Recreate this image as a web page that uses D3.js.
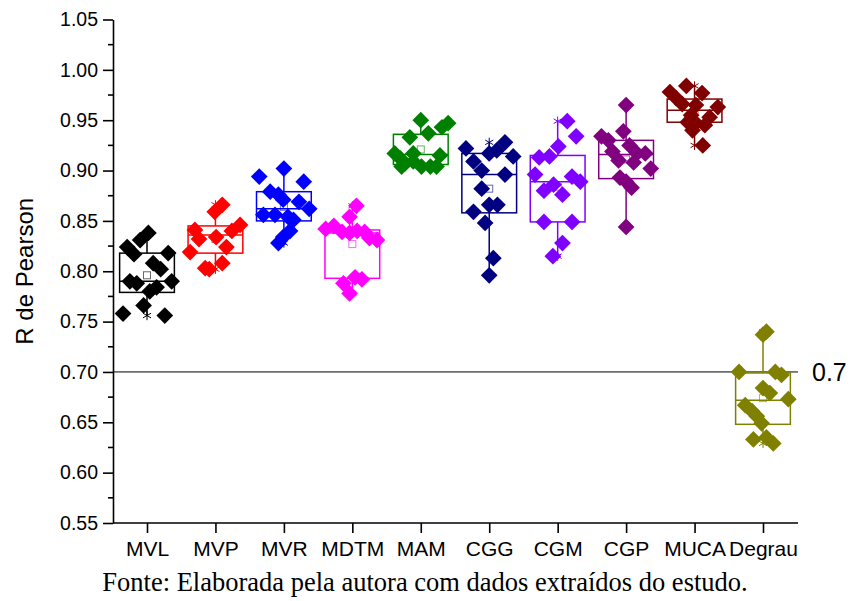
<!DOCTYPE html>
<html>
<head>
<meta charset="utf-8">
<script src="https://cdn.jsdelivr.net/npm/d3@7"></script>
<style>
  body { margin: 0; background: #fff; }
  svg { display: block; }
</style>
</head>
<body>
<div id="wrapper"></div>
<script>
// categories, colours
const categories = ["MVL", "MVP", "MVR", "MDTM", "MAM", "CGG", "CGM", "CGP", "MUCA", "Degrau"]
const colors = ["#000000", "#ff0000", "#0000ff", "#ff00ff", "#008000",
  "#000080", "#8000ff", "#800080", "#800000", "#808000"]

// R values, one array per group
const mvl = [0.838, 0.831, 0.824, 0.817, 0.818, 0.808, 0.802, 0.790, 0.788, 0.790, 0.780, 0.784, 0.766, 0.758, 0.756]
const mvp = [0.866, 0.859, 0.841, 0.832, 0.834, 0.840, 0.846, 0.819, 0.824, 0.803, 0.808, 0.802]
const mvr = [0.894, 0.902, 0.889, 0.879, 0.876, 0.871, 0.869, 0.862, 0.856, 0.856, 0.854, 0.851, 0.840, 0.834, 0.828]
const mdtm = [0.865, 0.854, 0.842, 0.845, 0.839, 0.838, 0.840, 0.839, 0.833, 0.831, 0.788, 0.794, 0.792, 0.778]
const mam = [0.950, 0.943, 0.947, 0.937, 0.933, 0.917, 0.912, 0.917, 0.915, 0.907, 0.909, 0.904, 0.904, 0.904, 0.904]
const cgg = [0.922, 0.928, 0.920, 0.917, 0.914, 0.909, 0.900, 0.896, 0.882, 0.866, 0.866, 0.859, 0.848, 0.813, 0.796]
const cgm = [0.949, 0.934, 0.924, 0.913, 0.914, 0.896, 0.894, 0.889, 0.886, 0.880, 0.876, 0.849, 0.849, 0.828, 0.815]
const cgp = [0.965, 0.939, 0.934, 0.930, 0.925, 0.919, 0.910, 0.917, 0.917, 0.908, 0.902, 0.893, 0.889, 0.883, 0.844]
const muca = [0.984, 0.977, 0.978, 0.972, 0.966, 0.965, 0.963, 0.953, 0.945, 0.955, 0.948, 0.947, 0.940, 0.925]
const degrau = [0.737, 0.740, 0.700, 0.700, 0.697, 0.684, 0.679, 0.673, 0.667, 0.661, 0.656, 0.649, 0.633, 0.635, 0.629]

// horizontal jitter of each point, in category steps
const jitter = [
  [0.02, -0.1, -0.29, -0.19, 0.31, 0.09, 0.2, -0.25, -0.15, 0.36, 0.04, 0.14, -0.05, -0.35, 0.26],
  [0.1, -0.01, -0.3, -0.24, 0.01, 0.24, 0.36, -0.37, 0.16, -0.15, 0.1, -0.09],
  [-0.36, 0, 0.29, -0.2, -0.08, -0.01, 0.22, 0.37, -0.3, -0.13, 0.06, 0.14, 0.09, -0.01, -0.08],
  [0.06, -0.04, -0.39, -0.27, -0.15, -0.04, 0.07, 0.18, 0.25, 0.36, -0.13, 0.04, 0.14, -0.04],
  [0, 0.31, 0.4, 0.11, -0.16, -0.38, -0.3, -0.11, 0.28, -0.23, -0.11, 0.01, 0.14, 0.23, -0.28],
  [-0.34, 0.23, 0.11, 0, 0.35, -0.23, -0.11, 0.23, -0.11, 0, 0.12, -0.23, -0.06, 0.06, 0],
  [0.14, 0.27, 0.01, -0.27, -0.12, -0.33, 0.21, 0.33, -0.06, -0.2, 0.07, -0.2, 0.21, 0.07, -0.07],
  [0, -0.04, -0.36, -0.26, 0.05, -0.2, -0.11, 0.16, 0.28, 0.11, 0.36, -0.09, 0, 0.08, 0],
  [-0.12, 0.11, -0.36, -0.27, -0.18, 0.02, 0.34, 0.22, 0.15, -0.05, -0.1, 0.02, -0.03, 0.12],
  [0, 0.05, -0.35, 0.18, 0.27, 0, 0.1, 0.37, -0.26, -0.16, -0.09, -0.02, -0.14, 0.05, 0.15]
]

// box statistics
const q3 = [0.818, 0.845, 0.879, 0.841, 0.936, 0.917, 0.915, 0.930, 0.971, 0.699]
const medians = [0.790, 0.836, 0.862, 0.838, 0.916, 0.896, 0.889, 0.916, 0.960, 0.672]
const q1 = [0.779, 0.818, 0.850, 0.793, 0.906, 0.858, 0.849, 0.892, 0.948, 0.648]
const means = [0.796, 0.832, 0.864, 0.827, 0.921, 0.882, 0.884, 0.911, 0.958, 0.674]

const yTicks = [0.55, 0.60, 0.65, 0.70, 0.75, 0.80, 0.85, 0.90, 0.95, 1.00, 1.05]
const refValue = 0.7

const groups = [mvl, mvp, mvr, mdtm, mam, cgg, cgm, cgp, muca, degrau]

// dimensions
const width = 851
const height = 601
const axisLeft = 113
const axisRight = 798
const plotTop = 19.5
const plotBottom = 523

const svg = d3.select("#wrapper")
  .append("svg")
  .attr("width", width)
  .attr("height", height)
  .style("font-family", "Arial, 'Liberation Sans', sans-serif")

// scales
const xScale = d3.scalePoint()
  .domain(categories)
  .range([147, 763])

const step = xScale.step()

const yScale = d3.scaleLinear()
  .domain([0.55, 1.05])
  .range([plotBottom, plotTop])

// axes
const yAxis = svg.append("g")
  .attr("transform", `translate(${axisLeft},0)`)
  .call(d3.axisLeft(yScale)
    .tickValues(yTicks)
    .tickFormat(d3.format(".2f"))
    .tickSize(10)
    .tickSizeOuter(0)
    .tickPadding(5))
yAxis.select(".domain").attr("stroke-width", 1.6)
yAxis.selectAll(".tick line").attr("stroke-width", 1.6)
yAxis.selectAll("text").style("font-size", "19.5px").attr("fill", "#000")

// minor y ticks
svg.append("g")
  .selectAll("line")
  .data(yTicks.slice(0, -1).map(d => d + 0.025))
  .join("line")
  .attr("x1", axisLeft - 5)
  .attr("x2", axisLeft)
  .attr("y1", d => yScale(d))
  .attr("y2", d => yScale(d))
  .attr("stroke", "#000")
  .attr("stroke-width", 1.6)

const xAxis = svg.append("g")
  .attr("transform", `translate(0,${plotBottom})`)
  .call(d3.axisBottom(xScale).tickSize(10).tickSizeOuter(0).tickPadding(8))
xAxis.select(".domain")
  .attr("d", `M${axisLeft},0H${axisRight}`)
  .attr("stroke-width", 1.6)
xAxis.selectAll(".tick line").attr("stroke-width", 1.6)
xAxis.selectAll("text").style("font-size", "21px").attr("fill", "#000")

// reference line at 0.7
svg.append("line")
  .attr("x1", axisLeft)
  .attr("x2", axisRight)
  .attr("y1", yScale(refValue))
  .attr("y2", yScale(refValue))
  .attr("stroke", "#000")
  .attr("stroke-width", 1)

svg.append("text")
  .attr("x", 812)
  .attr("y", yScale(refValue))
  .attr("dy", "0.36em")
  .style("font-size", "25px")
  .text("0.7")

// y title
svg.append("text")
  .attr("transform", `translate(33,${yScale(0.8)}) rotate(-90)`)
  .attr("text-anchor", "middle")
  .style("font-size", "24px")
  .text("R de Pearson")

// boxes
const boxW = step * 0.8
const boxes = svg.append("g")
  .selectAll("g")
  .data(categories)
  .join("g")

boxes.each(function (cat, i) {
  const g = d3.select(this)
  const cx = xScale(cat)
  const c = colors[i]
  const [lo, hi] = d3.extent(groups[i])

  g.append("line")
    .attr("x1", cx).attr("x2", cx)
    .attr("y1", yScale(hi)).attr("y2", yScale(q3[i]))
    .attr("stroke", c).attr("stroke-width", 1.5)
  g.append("line")
    .attr("x1", cx).attr("x2", cx)
    .attr("y1", yScale(q1[i])).attr("y2", yScale(lo))
    .attr("stroke", c).attr("stroke-width", 1.5)

  g.append("rect")
    .attr("x", cx - boxW / 2)
    .attr("y", yScale(q3[i]))
    .attr("width", boxW)
    .attr("height", yScale(q1[i]) - yScale(q3[i]))
    .attr("fill", "none")
    .attr("stroke", c)
    .attr("stroke-width", 1.5)

  g.append("line")
    .attr("x1", cx - boxW / 2).attr("x2", cx + boxW / 2)
    .attr("y1", yScale(medians[i])).attr("y2", yScale(medians[i]))
    .attr("stroke", c).attr("stroke-width", 1.5)

  g.append("rect")
    .attr("x", cx - 3.5)
    .attr("y", yScale(means[i]) - 3.5)
    .attr("width", 7)
    .attr("height", 7)
    .attr("fill", "none")
    .attr("stroke", c)
    .attr("stroke-opacity", 0.6)
    .attr("stroke-width", 1)

  g.selectAll(".star")
    .data([lo, hi])
    .join("path")
    .attr("class", "star")
    .attr("d", d3.symbol(d3.symbolAsterisk, 60))
    .attr("transform", d => `translate(${cx},${yScale(d)})`)
    .attr("fill", "none")
    .attr("stroke", c)
    .attr("stroke-width", 1)

  // data points as diamonds
  g.selectAll(".pt")
    .data(groups[i])
    .join("path")
    .attr("class", "pt")
    .attr("d", d3.symbol(d3.symbolSquare, 140))
    .attr("transform", (d, j) =>
      `translate(${cx + jitter[i][j] * step},${yScale(d)}) rotate(45)`)
    .attr("fill", c)
})

// caption
svg.append("text")
  .attr("x", 425)
  .attr("y", 591)
  .attr("text-anchor", "middle")
  .style("font-family", "'Liberation Serif', 'Times New Roman', serif")
  .style("font-size", "26.5px")
  .text("Fonte: Elaborada pela autora com dados extraídos do estudo.")
</script>
</body>
</html>
